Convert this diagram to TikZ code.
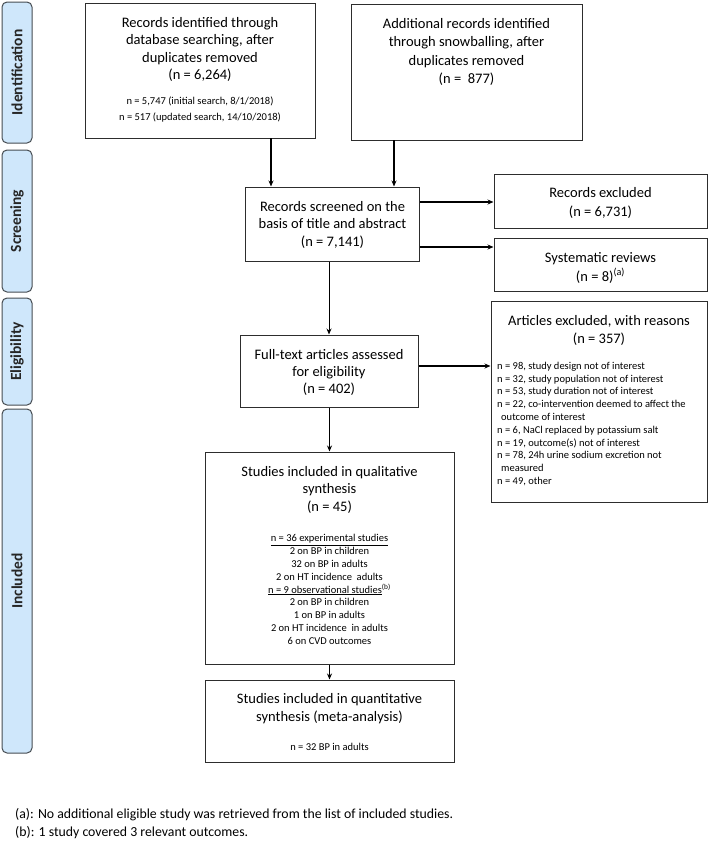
\documentclass[tikz,border=0pt]{standalone}
\usepackage{fontspec}
\setmainfont{Carlito}
\usetikzlibrary{arrows.meta}
\definecolor{phasefill}{RGB}{207,231,251}
\definecolor{phaseline}{RGB}{70,76,82}
\definecolor{boxline}{RGB}{45,45,45}
\begin{document}
\begin{tikzpicture}[x=1pt,y=-1pt,
  box/.style={draw=boxline, line width=1pt, inner sep=0pt},
  phase/.style={draw=phaseline, line width=1pt, fill=phasefill, rounded corners=5pt, minimum width=30pt, inner sep=0pt},
  plabel/.style={font=\fontsize{15.5}{17}\selectfont\bfseries, text=black!85, rotate=90, inner sep=0pt},
  big/.style={font=\fontsize{14.5}{17.5}\selectfont, align=center, inner sep=0pt},
  small/.style={font=\fontsize{10.5}{12.8}\selectfont, align=center, inner sep=0pt},
  arr/.style={-{Stealth[length=6pt,width=5pt]}, line width=1.2pt, draw=black},
  harr/.style={arr, line width=1.7pt},
  foot/.style={font=\fontsize{13.8}{17}\selectfont, anchor=west, inner sep=0pt},
]
\useasboundingbox (0,0) rectangle (709,841);

% phase bars
\node[phase, minimum height=141pt] (idb) at (17,72.5) {};
\node[plabel] (idl) at (idb) {Identification};
\node[phase, minimum height=142pt] (scb) at (17,221) {};
\node[plabel] (scl) at (scb) {Screening};
\node[phase, minimum height=107pt] (elb) at (17,351.5) {};
\node[plabel] (ell) at (elb) {Eligibility};
\node[phase, minimum height=344pt] (inb) at (17,581) {};
\node[plabel] (inl) at (inb) {Included};

% identification boxes
\node[box, minimum width=230pt, minimum height=135pt] (id1) at (200,70.5) {};
\node[big] (id1t) at (200,49.5) {Records identified through\\database searching, after\\duplicates removed\\(n = 6,264)};
\node[small, font=\fontsize{10.5}{16}\selectfont] (id1s) at (200,110) {n = 5,747 (initial\ search, 8/1/2018)\\n = 517 (updated search,\ 14/10/2018)};

\node[box, minimum width=231pt, minimum height=136pt] (id2) at (466.5,72) {};
\node[big, font=\fontsize{14.5}{18.5}\selectfont] (id2t) at (466.5,52) {Additional records identified\\through snowballing, after\\duplicates removed\\(n =\ \ 877)};

% screening
\node[box, minimum width=174pt, minimum height=74pt] (scr) at (332.5,224) {};
\node[big] (scrt) at (332.5,224.5) {Records screened on the\\basis of title and abstract\\(n = 7,141)};

\node[box, minimum width=213pt, minimum height=54pt] (rex) at (600.5,201) {};
\node[big, font=\fontsize{14.5}{19}\selectfont] (rext) at (600.5,203) {Records excluded\\(n = 6,731)};

\node[box, minimum width=213pt, minimum height=53pt] (sr) at (600.5,264.5) {};
\node[big, font=\fontsize{14.5}{19}\selectfont] (srt) at (600.5,267.5) {Systematic reviews\\(n = 8)\textsuperscript{(a)}};

% eligibility
\node[box, minimum width=178pt, minimum height=72pt] (ft) at (329,371) {};
\node[big, font=\fontsize{14.5}{17}\selectfont] (ftt) at (329,372) {Full-text articles assessed\\for eligibility\\(n = 402)};

\node[box, minimum width=216pt, minimum height=201pt] (ae) at (599,401.5) {};
\node[big, font=\fontsize{14.5}{18}\selectfont] (aet) at (599,330) {Articles excluded, with reasons\\(n = 357)};
\node[small, align=left, anchor=west] (ael) at (497,424) {n = 98, study design not of interest\\
n = 32, study population\ not of interest\\
n = 53, study duration\ not of interest\\
n = 22, co-intervention\ deemed to affect the\\
\hspace*{4pt}outcome\ of interest\\
n = 6, NaCl replaced by potassium salt\\
n = 19, outcome(s)\ not of interest\\
n = 78, 24h urine sodium\ excretion\ not\\
\hspace*{4pt}measured\\
n = 49, other};

% included
\node[box, minimum width=249pt, minimum height=212pt] (ql) at (329.5,558) {};
\node[big] (qlt) at (329.5,489.5) {Studies included in qualitative\\synthesis\\(n = 45)};
\node[small] (qls) at (329.5,589.5) {\underline{n = 36 experimental\ studies}\\
2 on BP in children\\
32 on BP in adults\\
2 on HT incidence\ \ adults\\
\underline{n = 9 observational\ studies}\textsuperscript{(b)}\\
2 on BP in children\\
1 on BP in adults\\
2 on HT incidence\ \ in adults\\
6 on CVD outcomes};

\node[box, minimum width=249pt, minimum height=82pt] (qn) at (329.5,721) {};
\node[big, font=\fontsize{14.5}{18}\selectfont] (qnt) at (329.5,709) {Studies included in quantitative\\synthesis (meta-analysis)};
\node[small] (qns) at (329.5,747) {n = 32 BP in adults};

% connectors
\coordinate (a1) at (271,138);
\coordinate (a2) at (394,140);
\coordinate (s1) at (0,202);
\coordinate (s2) at (0,247);
\coordinate (s3) at (0,366);
\draw[arr] (a1) -- (a1 |- scr.north);
\draw[arr] (a2) -- (a2 |- scr.north);
\draw[harr] (scr.east |- s1) -- (rex.west |- s1);
\draw[harr] (scr.east |- s2) -- (sr.west |- s2);
\draw[arr, line width=1pt] (ft.north |- scr.south) -- (ft.north);
\draw[harr] (ft.east |- s3) -- (ae.west |- s3);
\draw[arr, line width=1pt] (ql.north |- ft.south) -- (ql.north);
\draw[arr, line width=1pt] (ql.south) -- (qn.north);

% footnotes
\node[foot] (fa) at (15,815) {(a): No additional eligible study was retrieved from the list of included studies.};
\node[foot] (fb) at (15,833) {(b): 1 study covered 3 relevant outcomes.};
\end{tikzpicture}
\end{document}
